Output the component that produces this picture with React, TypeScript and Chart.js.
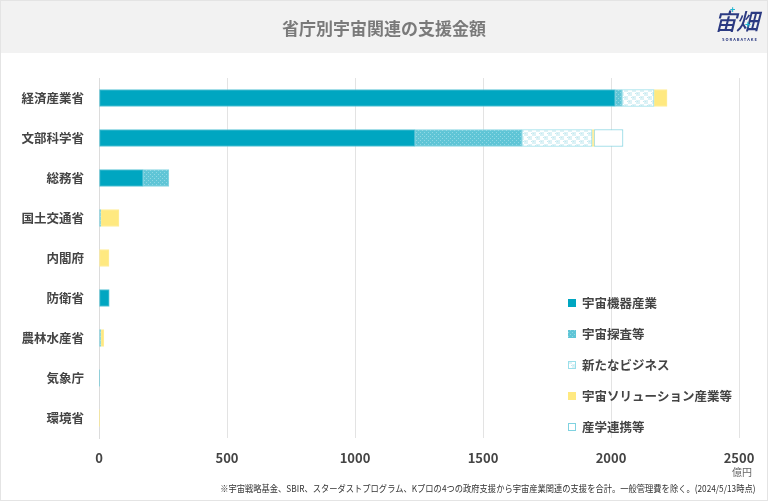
import { useEffect, useRef } from 'react';
import { Chart, registerables } from 'chart.js';

Chart.register(...registerables);

const categories = ['経済産業省', '文部科学省', '総務省', '国土交通省', '内閣府', '防衛省', '農林水産省', '気象庁', '環境省'];
const seriesNames = ['宇宙機器産業', '宇宙探査等', '新たなビジネス', '宇宙ソリューション産業等', '産学連携等'];
const kikiValues = [2016, 1234, 172, 0, 0, 40, 0, 0, 0];
const tansaValues = [27, 418, 101, 7, 0, 0, 7, 3, 0];
const newBizValues = [125, 274, 0, 0, 0, 0, 0, 0, 0];
const solutionValues = [51, 8, 0, 71, 39, 0, 12, 0, 1];
const sangakuValues = [0, 113, 0, 0, 0, 0, 0, 0, 0];
const xMin = 0;
const xMax = 2500;
const xStep = 500;
const unitLabel = '億円';
const titleText = '省庁別宇宙関連の支援金額';
const noteText = '※宇宙戦略基金、SBIR、スターダストプログラム、Kプロの4つの政府支援から宇宙産業関連の支援を合計。一般管理費を除く。(2024/5/13時点)';

const FONT = '"Noto Sans CJK JP", "Noto Sans", sans-serif';

function makeDots(): CanvasPattern | string {
  const c = document.createElement('canvas');
  c.width = 4;
  c.height = 4;
  const g = c.getContext('2d');
  if (!g) return '#62c6d6';
  g.fillStyle = '#5fc5d6';
  g.fillRect(0, 0, 4, 4);
  g.fillStyle = '#8fd8e4';
  g.fillRect(0, 0, 1, 1);
  g.fillRect(2, 2, 1, 1);
  return g.createPattern(c, 'repeat') || '#62c6d6';
}

function makeCheck(): CanvasPattern | string {
  const c = document.createElement('canvas');
  c.width = 8;
  c.height = 8;
  const g = c.getContext('2d');
  if (!g) return '#eaf7fa';
  g.fillStyle = '#ffffff';
  g.fillRect(0, 0, 8, 8);
  g.fillStyle = '#ddf2f6';
  g.fillRect(0, 0, 4, 4);
  g.fillRect(4, 4, 4, 4);
  g.fillStyle = '#c3e9f0';
  g.fillRect(1, 1, 1, 1);
  g.fillRect(5, 5, 1, 1);
  g.fillRect(3, 5, 1, 1);
  g.fillRect(7, 1, 1, 1);
  return g.createPattern(c, 'repeat') || '#eaf7fa';
}

const legendPlugin = {
  id: 'insideLegend',
  afterDraw(chart: any) {
    const ctx = chart.ctx;
    ctx.save();
    chart.data.datasets.forEach((ds: any, i: number) => {
      const y = 303 + i * 31;
      ctx.fillStyle = ds.backgroundColor;
      ctx.fillRect(568, y - 4, 8, 8);
      if (ds.legendStroke) {
        ctx.strokeStyle = ds.legendStroke;
        ctx.lineWidth = 1;
        ctx.strokeRect(568.5, y - 3.5, 7, 7);
      }
      ctx.fillStyle = '#444444';
      ctx.font = `bold 12.5px ${FONT}`;
      ctx.textBaseline = 'middle';
      ctx.textAlign = 'left';
      ctx.fillText(ds.label, 582, y + 0.5);
    });
    ctx.restore();
  },
};

export default function App() {
  const ref = useRef<HTMLCanvasElement>(null);

  useEffect(() => {
    if (!ref.current) return;
    const dots = makeDots();
    const check = makeCheck();
    const common = { barThickness: 17, borderWidth: 1, borderSkipped: false, stack: 's' };
    const chart = new Chart(ref.current, {
      type: 'bar',
      data: {
        labels: categories,
        datasets: [
          { ...common, label: seriesNames[0], data: kikiValues, backgroundColor: '#00a6c1', borderColor: '#5cc4d6', legendStroke: null },
          { ...common, label: seriesNames[1], data: tansaValues, backgroundColor: dots, borderColor: '#8ad6e3', legendStroke: null },
          { ...common, label: seriesNames[2], data: newBizValues, backgroundColor: check, borderColor: '#9adfea', legendStroke: '#9adfea' },
          { ...common, label: seriesNames[3], data: solutionValues, backgroundColor: '#ffe980', borderColor: '#ffed99', legendStroke: null },
          { ...common, label: seriesNames[4], data: sangakuValues, backgroundColor: '#ffffff', borderColor: '#8ad6e3', legendStroke: '#7fd2e0' },
        ] as any,
      },
      options: {
        indexAxis: 'y',
        responsive: false,
        animation: false,
        layout: { padding: { top: 78, right: 29, left: 0, bottom: 0 } },
        plugins: { legend: { display: false }, tooltip: { enabled: false } },
        scales: {
          x: {
            type: 'linear',
            stacked: true,
            min: xMin,
            max: xMax,
            ticks: {
              stepSize: xStep,
              color: '#444444',
              font: { family: FONT, size: 13, weight: 'bold' },
              padding: 12,
              callback: (v: any) => String(v),
            },
            grid: { color: '#e3e3e3', drawTicks: false },
            border: { display: false },
            afterFit: (s: any) => { s.height = 63; },
          },
          y: {
            type: 'category',
            stacked: true,
            grid: { display: false, drawTicks: false },
            border: { display: true, color: '#dcdcdc' },
            ticks: { color: '#444444', font: { family: FONT, size: 12.5, weight: 'bold' }, padding: 15 },
            afterFit: (s: any) => { s.width = 99; },
          },
        },
      } as any,
      plugins: [legendPlugin],
    });
    return () => chart.destroy();
  }, []);

  return (
    <div style={{ position: 'absolute', left: 0, top: 0, width: 768, height: 501, boxSizing: 'border-box', border: '1px solid #e4e4e4', background: '#ffffff', fontFamily: FONT, overflow: 'hidden' }}>
      <div style={{ position: 'absolute', left: -1, top: -1, width: 768, height: 53, background: '#f2f2f2' }} />
      <canvas ref={ref} width={768} height={501} style={{ position: 'absolute', left: -1, top: -1, width: 768, height: 501 }} />
      <div style={{ position: 'absolute', left: -1, top: -1, width: 768, height: 53, lineHeight: '55px', textAlign: 'center', fontSize: 17, fontWeight: 700, color: '#7a7a7a' }}>{titleText}</div>
      <div style={{ position: 'absolute', left: 713, top: 5, fontSize: 23, lineHeight: '28px', color: '#2b3a82', fontStyle: 'italic', fontWeight: 500, letterSpacing: -1 }}>宙畑</div>
      <div style={{ position: 'absolute', left: 729, top: 4, fontSize: 9, lineHeight: '10px', color: '#1fb4d0', fontWeight: 700 }}>+</div>
      <div style={{ position: 'absolute', left: 744, top: 18, fontSize: 10, lineHeight: '10px', color: '#1fb4d0', fontWeight: 700 }}>+</div>
      <div style={{ position: 'absolute', left: 721, top: 36, fontSize: 4, lineHeight: '5px', color: '#2b3a82', fontWeight: 700, letterSpacing: 1 }}>SORABATAKE</div>
      <div style={{ position: 'absolute', right: 15, top: 464, fontSize: 10, lineHeight: '14px', color: '#666666' }}>{unitLabel}</div>
      <div style={{ position: 'absolute', right: 12, top: 481, fontSize: 9.3, lineHeight: '13px', color: '#333333', whiteSpace: 'nowrap', transform: 'scaleX(0.89)', transformOrigin: 'right center' }}>{noteText}</div>
    </div>
  );
}
